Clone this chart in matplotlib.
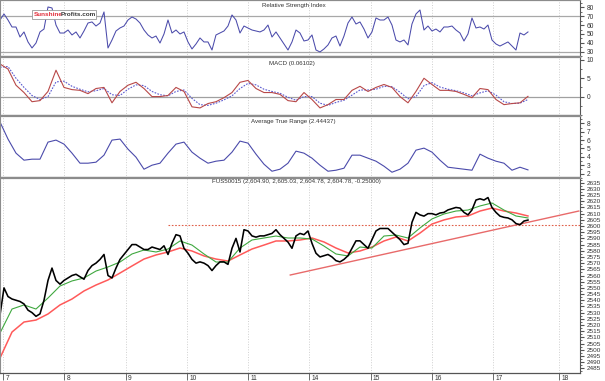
"""Four-panel intraday chart: RSI, MACD, ATR and the S&P 500 futures price."""

import matplotlib

matplotlib.use("Agg")
import matplotlib.pyplot as plt
import numpy as np
from matplotlib.patches import Rectangle
from matplotlib.ticker import FixedLocator, MultipleLocator

plt.rcParams["font.family"] = ["Liberation Sans", "DejaVu Sans"]

# --- data (time axis in trading days, day "7" = 0) --------------------------
FIRST_T = -0.049        # time of the first sample
STEP_FINE = 0.0653      # spacing of price / RSI samples
STEP_MID = 0.1306       # spacing of MACD / ATR samples
STEP_COARSE = 0.1959    # spacing of moving average samples

day_labels = ["7", "8", "9", "10", "11", "14", "15", "16", "17", "18"]
day_pos = [0, 1, 2, 3, 4, 5, 6, 7, 8, 9.08]

rsi = [65.8, 72.6, 65.8, 57.9, 57.9, 46.6, 52.3, 41.0, 34.2, 39.8,
       52.3, 55.6, 80.5, 79.4, 60.1, 51.1, 51.1, 54.5, 48.9, 52.3,
       45.5, 53.4, 62.4, 63.6, 59.0, 62.4, 74.9, 34.2, 43.2, 53.4,
       56.8, 59.0, 65.8, 69.2, 66.9, 62.4, 54.5, 48.9, 45.5, 47.7,
       39.8, 50.0, 65.8, 51.1, 54.5, 50.0, 52.3, 41.0, 33.1, 38.7,
       45.5, 41.0, 41.0, 31.9, 48.9, 51.1, 53.4, 59.0, 71.5, 65.8,
       51.1, 59.0, 56.8, 54.5, 53.4, 52.3, 54.5, 60.1, 46.6, 52.3,
       45.5, 38.7, 31.9, 41.0, 54.5, 51.1, 42.1, 43.2, 48.9, 31.9,
       29.7, 33.1, 37.6, 45.5, 47.7, 36.4, 47.7, 62.4, 69.2, 61.3,
       63.6, 55.6, 45.5, 52.3, 68.1, 65.8, 65.8, 69.2, 60.1, 43.2,
       41.0, 43.2, 37.6, 61.3, 72.6, 77.1, 54.5, 59.0, 53.4, 55.6,
       52.3, 57.9, 57.9, 59.0, 54.5, 51.1, 42.1, 50.0, 68.1, 56.8,
       57.9, 55.6, 60.1, 43.2, 38.7, 36.4, 38.7, 41.0, 36.4, 31.9,
       51.1, 48.9, 52.3]

macd = [8.9, 7.5, 3.1, 1.1, -1.4, -1.1, 1.4, 7.2, 2.5, 1.9,
        1.7, 0.8, 2.2, 2.5, -1.7, 1.4, 3.1, 3.9, 2.2, 0.0,
        0.0, 0.3, 2.5, 1.4, -2.8, -3.1, -1.9, -1.4, -0.3, 1.1,
        3.9, 4.4, 2.2, 1.1, 1.1, 0.6, -1.1, -1.4, 1.1, -0.8,
        -3.1, -2.2, -0.8, -0.8, 1.7, 2.8, 1.4, 2.5, 3.3, 2.5,
        0.0, -1.7, 1.4, 5.0, 3.3, 1.7, 1.7, 1.4, 0.6, -0.3,
        2.2, 1.9, -0.8, -2.2, -1.9, -1.7, 0.06]
macd_signal = [8.0, 8.2, 5.0, 2.5, 0.3, -0.8, 0.0, 4.0, 4.2, 2.8,
               2.0, 1.3, 1.6, 2.2, 0.5, 0.3, 2.0, 3.2, 3.0, 1.4,
               0.5, 0.2, 1.4, 1.8, -0.5, -2.2, -2.4, -1.8, -0.9, 0.2,
               2.2, 3.6, 3.2, 2.0, 1.4, 0.9, -0.2, -1.0, 0.0, 0.0,
               -1.8, -2.4, -1.6, -1.0, 0.4, 1.8, 1.8, 2.0, 2.8, 2.7,
               1.2, -0.6, 0.0, 3.0, 3.8, 2.6, 2.0, 1.6, 1.0, 0.2,
               1.0, 1.6, 0.4, -1.4, -1.9, -1.8, -0.8]

atr = [8.16, 6.12, 4.44, 3.60, 3.72, 3.72, 5.76, 6.00, 5.52, 4.44,
       3.24, 3.24, 3.36, 4.20, 6.00, 6.12, 4.92, 3.96, 2.52, 3.00,
       3.24, 4.44, 5.52, 5.76, 4.56, 3.84, 3.24, 3.48, 3.60, 4.56,
       5.88, 5.64, 4.32, 3.12, 2.28, 2.52, 3.24, 4.68, 4.44, 3.84,
       3.00, 2.28, 2.40, 2.64, 4.20, 4.20, 3.84, 3.48, 2.88, 2.16,
       2.52, 3.24, 4.80, 5.04, 4.56, 3.60, 2.76, 2.64, 2.52, 2.40,
       4.32, 3.84, 3.48, 3.24, 2.40, 2.76, 2.44]

close = [2528, 2550, 2543, 2541, 2540, 2539, 2537, 2532, 2530, 2527,
         2529, 2540, 2556, 2566, 2556, 2553, 2556, 2558, 2560, 2561,
         2559, 2557, 2564, 2568, 2570, 2573, 2577, 2560, 2558, 2566,
         2573, 2577, 2581, 2585, 2585, 2583, 2581, 2581, 2583, 2582,
         2581, 2584, 2577, 2586, 2593, 2592, 2582, 2578, 2573, 2570,
         2571, 2570, 2568, 2564, 2568, 2571, 2571, 2569, 2582, 2590,
         2579, 2597, 2596, 2592, 2591, 2592, 2592, 2593, 2594, 2597,
         2593, 2590, 2587, 2582, 2592, 2594, 2593, 2596, 2586, 2578,
         2575, 2576, 2577, 2575, 2572, 2571, 2573, 2576, 2582, 2588,
         2588, 2585, 2582, 2589, 2596, 2598, 2598, 2598, 2595, 2592,
         2589, 2585, 2586, 2603, 2611, 2609, 2608, 2610, 2610, 2609,
         2610.5, 2611, 2613, 2614, 2615, 2614.5, 2611, 2609, 2613, 2621,
         2622, 2621, 2623, 2615, 2611, 2608, 2607, 2606.5, 2605, 2602,
         2601, 2604, 2604.8]

ma_short = [2513.5, 2532.9, 2536.2, 2532.9, 2541.8, 2551.5, 2555.6, 2558.0, 2563.6, 2566.9,
            2570.9, 2577.4, 2580.6, 2579.0, 2581.4, 2587.9, 2584.6, 2577.4, 2570.9, 2570.9,
            2582.2, 2588.7, 2590.3, 2591.9, 2590.3, 2590.3, 2589.5, 2583.8, 2577.4, 2575.8,
            2583.0, 2582.2, 2591.9, 2592.7, 2590.3, 2598.4, 2605.7, 2609.7, 2612.1, 2612.9,
            2616.2, 2618.6, 2612.9, 2608.1, 2606.5]
ma_long = [2493.3, 2514.3, 2522.4, 2524.0, 2528.9, 2536.2, 2541.0, 2547.5, 2552.3, 2556.4,
           2562.0, 2567.7, 2573.3, 2576.6, 2579.0, 2582.2, 2579.8, 2575.8, 2573.3, 2571.7,
           2576.6, 2581.4, 2584.6, 2587.9, 2587.9, 2588.7, 2590.3, 2587.1, 2582.2, 2578.2,
           2579.8, 2583.0, 2587.9, 2591.1, 2587.9, 2594.3, 2601.6, 2604.9, 2607.3, 2608.1,
           2612.1, 2614.5, 2612.1, 2610.5, 2608.1]

resistance_level = 2600.5
resistance_start = 2.69
trend_x = [4.69, 9.40]
trend_y = [2560.4, 2612.1]

# --- layout (pixels of the 605x381 output) -----------------------------------
W, H = 605, 381
PLOT_RIGHT = 580
X_MIN = -0.049
X_MAX = 9.42

TEXT = "#333333"
FRAME = "#8c8c8c"
GRID = "#cfcfcf"
LINE_BLUE = "#4b4bab"


def times(values, step):
    return FIRST_T + np.arange(len(values)) * step


def add_panel(fig, top, bottom):
    ax = fig.add_axes([0, 1 - bottom / H, PLOT_RIGHT / W, (bottom - top) / H])
    ax.set_xlim(X_MIN, X_MAX)
    ax.yaxis.tick_right()
    ax.tick_params(axis="y", which="both", direction="out", colors="#555555",
                   labelcolor=TEXT, labelsize=4.8, pad=2)
    ax.tick_params(axis="y", which="major", length=3)
    ax.tick_params(axis="y", which="minor", length=1.5)
    ax.set_xticks(day_pos)
    ax.tick_params(axis="x", bottom=False, labelbottom=False)
    ax.grid(axis="x", color=GRID, linestyle=":", linewidth=0.7)
    for side in ("top", "bottom"):
        ax.spines[side].set_color(FRAME)
        ax.spines[side].set_linewidth(1.6)
    ax.spines["right"].set_color("#555555")
    ax.spines["right"].set_linewidth(0.8)
    ax.spines["left"].set_color(FRAME)
    ax.spines["left"].set_linewidth(0.8)
    return ax


fig = plt.figure(figsize=(W / 100, H / 100), dpi=100)
fig.patch.set_facecolor("white")

# RSI
ax_rsi = add_panel(fig, 0, 57)
ax_rsi.set_ylim(24.0, 88.4)
ax_rsi.axhline(70, color="#a8a8a8", linewidth=0.9)
ax_rsi.axhline(30, color="#a8a8a8", linewidth=0.9)
ax_rsi.plot(times(rsi, STEP_FINE), rsi, color=LINE_BLUE, linewidth=0.75)
ax_rsi.yaxis.set_major_locator(FixedLocator([30, 40, 50, 60, 70, 80]))
ax_rsi.yaxis.set_minor_locator(MultipleLocator(5))

# MACD
ax_macd = add_panel(fig, 57, 116)
ax_macd.set_ylim(-5.3, 10.8)
ax_macd.axhline(0, color="#a0a0a0", linewidth=0.9)
ax_macd.plot(times(macd_signal, STEP_MID), macd_signal, color="#5a5ad0",
             linewidth=0.8, linestyle=(0, (1.5, 1.2)))
ax_macd.plot(times(macd, STEP_MID), macd, color="#b84848", linewidth=0.8)
ax_macd.yaxis.set_major_locator(FixedLocator([0, 5, 10]))
ax_macd.yaxis.set_minor_locator(MultipleLocator(2.5))

# ATR
ax_atr = add_panel(fig, 116, 178)
ax_atr.set_ylim(1.47, 8.88)
ax_atr.plot(times(atr, STEP_MID), atr, color=LINE_BLUE, linewidth=0.8)
ax_atr.yaxis.set_major_locator(MultipleLocator(1))
ax_atr.yaxis.set_minor_locator(MultipleLocator(0.5))

# Price
ax_px = add_panel(fig, 178, 373)
ax_px.set_ylim(2481.2, 2638.8)
ax_px.yaxis.set_major_locator(FixedLocator(np.arange(2485, 2640, 5)))
ax_px.yaxis.set_minor_locator(MultipleLocator(2.5))
ax_px.tick_params(axis="y", labelsize=4.6)
ax_px.spines["bottom"].set_color("#555555")
ax_px.spines["bottom"].set_linewidth(0.9)
ax_px.hlines(resistance_level, resistance_start, X_MAX, color="#e0604a",
             linewidth=0.8, linestyle=(0, (1.5, 1.5)))
ax_px.plot(trend_x, trend_y, color="#e86a6a", linewidth=1.0)
ax_px.plot(times(ma_long, STEP_COARSE), ma_long, color="#ff5a5a", linewidth=1.1)
ax_px.plot(times(ma_short, STEP_COARSE), ma_short, color="#3fa83f", linewidth=0.8)
ax_px.plot(times(close, STEP_FINE), close, color="black", linewidth=1.15)
ax_px.set_xticks(day_pos, labels=[""] * len(day_pos))
ax_px.tick_params(axis="x", bottom=True, direction="out", length=5,
                  color="#555555", width=0.6)
for pos, label in zip(day_pos, day_labels):
    ax_px.annotate(label, xy=(pos, 0), xycoords=ax_px.get_xaxis_transform(),
                   xytext=(1.8, -1.2), textcoords="offset points",
                   ha="left", va="top", fontsize=4.8, color=TEXT)

# panel captions
title_kw = dict(fontsize=4.4, color=TEXT, va="center", ha="left")
fig.text(262 / W, 1 - 5 / H, "Relative Strength Index", **title_kw)
fig.text(269 / W, 1 - 63 / H, "MACD (0.06102)", **title_kw)
fig.text(251 / W, 1 - 122 / H, "Average True Range (2.44437)", **title_kw)
fig.text(212 / W, 1 - 182 / H,
         "FUS50015 (2,604.90, 2,605.03, 2,604.78, 2,604.78, -0.25000)", **title_kw)

# logo
fig.add_artist(Rectangle((32 / W, 1 - 19 / H), 64 / W, 9 / H,
                         transform=fig.transFigure, facecolor="white",
                         edgecolor="#9a9a9a", linewidth=0.6, zorder=5))
logo_kw = dict(fontsize=4.6, weight="bold", va="center", ha="left", zorder=6)
fig.text(34 / W, 1 - 14.5 / H, "Sunshine", color="#e2303c", **logo_kw)
fig.text(61 / W, 1 - 14.5 / H, "Profits.com", color="#3a3a3a", **logo_kw)

fig.savefig("out.png", dpi=100)
